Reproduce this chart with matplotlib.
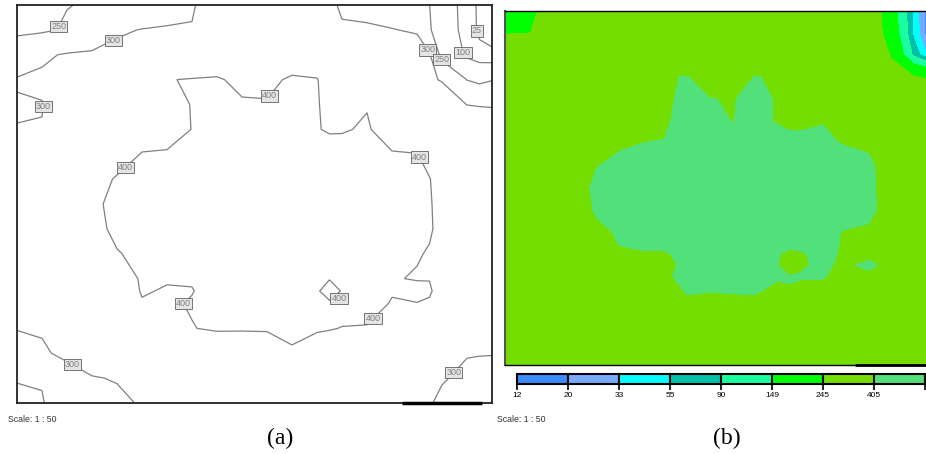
import numpy as np
import matplotlib.pyplot as plt

# room grid (m), x to the right, y downwards from the top wall
x_nodes = [0, 0.5, 1, 1.5, 2, 2.5, 3, 3.5, 4, 4.5, 5, 5.5, 6, 6.25, 6.5,
           7, 7.5, 8, 8.25, 8.5, 9, 9.25, 9.5]
y_nodes = [0, 0.5, 1, 1.5, 2, 2.5, 3, 3.5, 4, 4.5, 5, 5.5, 5.75, 6, 6.5,
           7, 7.5, 8]

# illuminance (lux), one row per y node
lux = np.array([
    [225, 242, 249, 253, 265, 275, 285, 298, 312, 325, 330, 325, 315, 306, 296, 290, 285, 272, 251, 186, 46, 17, 13],
    [243, 244, 254, 270, 296, 301, 303, 301, 320, 335, 340, 338, 322, 310, 303, 304, 301, 297, 258, 200, 46, 18, 14],
    [272, 295, 303, 306, 308, 320, 330, 340, 355, 350, 350, 372, 370, 355, 340, 335, 325, 315, 304, 235, 78, 36, 30],
    [303, 305, 320, 325, 330, 340, 398, 403, 406, 386, 390, 406, 402, 380, 370, 368, 350, 320, 304, 298, 249, 240, 248],
    [297, 299, 318, 330, 345, 360, 390, 401, 410, 406, 403, 415, 402, 392, 392, 398, 375, 350, 335, 318, 299.5, 298, 297],
    [301, 301, 320, 335, 350, 380, 378, 401, 415, 420, 404, 415, 402, 396, 397, 404, 380, 375, 362, 350, 325, 322, 322],
    [330, 340, 350, 365, 380, 402, 405, 406, 418, 425, 425, 425, 422, 418, 415, 410, 403, 401, 390, 375, 355, 348, 340],
    [340, 350, 365, 382, 404, 410, 415, 420, 425, 428, 430, 428, 425, 425, 425, 425, 420, 410, 401, 388, 365, 355, 345],
    [350, 360, 372, 392, 410, 415, 420, 425, 428, 430, 432, 430, 428, 428, 428, 425, 418, 410, 402, 392, 370, 360, 350],
    [350, 360, 372, 388, 408, 415, 420, 425, 428, 430, 430, 430, 428, 428, 428, 425, 420, 410, 403, 392, 370, 360, 350],
    [350, 360, 370, 385, 398, 408, 418, 420, 422, 422, 422, 420, 418, 416, 416, 412, 403, 402, 398, 385, 365, 358, 350],
    [345, 352, 365, 375, 385, 403, 402, 402, 412, 418, 418, 415, 406, 402, 403, 410, 402, 398, 399, 388, 365, 358, 350],
    [340, 345, 355, 368, 380, 402, 398, 399, 410, 415, 415, 412, 405.5, 380, 403, 408, 401, 410, 404, 385, 362, 355, 348],
    [335, 340, 348, 360, 372, 398, 396, 402, 410, 410, 412, 410, 406, 407, 406, 406, 399, 399, 396, 382, 360, 352, 345],
    [302, 302, 325, 340, 355, 375, 396, 399, 404, 403, 403, 404, 401, 401, 399.5, 399, 385, 375, 368, 360, 345, 335, 330],
    [278, 297, 305, 320, 330, 345, 360, 365, 370, 375, 380, 398, 395, 388, 385, 380, 375, 360, 345, 325, 302, 302, 302],
    [251, 252, 290, 298, 302, 305, 325, 340, 350, 355, 360, 365, 362, 360, 360, 355, 350, 330, 306, 303, 292, 285, 280],
    [246, 248, 270, 282, 293, 303, 320, 335, 345, 350, 352, 355, 352, 350, 345, 340, 335, 318, 303, 292, 280, 275, 270],
])

line_levels = [25, 100, 250, 300, 400]
fill_levels = [12, 20, 33, 55, 90, 149, 245, 405, 668]
fill_colors = ['#3a8cff', '#78aaff', '#00ffff', '#00c0a8', '#19ffa0',
               '#00ff00', '#73de00', '#52e07a']

# where the contour labels sit (m)
label_pos = [(0.76, 0.39), (1.86, 0.58), (0.5, 2.03), (2.32, 3.44),
             (5.12, 1.89), (8.22, 0.90), (8.52, 1.09), (8.9, 0.96),
             (9.2, 0.52), (8.16, 3.0), (3.26, 6.03), (1.16, 7.14),
             (6.44, 5.9), (7.2, 6.39), (8.86, 7.5)]

W, H = 926, 454
fig = plt.figure(figsize=(W / 100, H / 100), dpi=100)


def px_axes(l, t, r, b):
    return fig.add_axes([l / W, 1 - b / H, (r - l) / W, (b - t) / H])


# (a) isolux lines
ax_a = px_axes(17, 5, 492, 403)
cs = ax_a.contour(x_nodes, y_nodes, lux, levels=line_levels,
                  colors='#808080', linewidths=0.9)
texts = ax_a.clabel(cs, fmt='%d', fontsize=6.5, manual=label_pos,
                    inline=False)
for t in texts:
    t.set_rotation(0)
    t.set_fontfamily('Liberation Sans')
    t.set_zorder(6)
    t.set_bbox(dict(boxstyle='square,pad=0.12', fc='#e4e4e4',
                    ec='#606060', lw=0.6))
# the small dark spot label sits at the corner of its loop, not on top of it
texts[12].set_position(label_pos[12])
ax_a.plot([7.7, 9.3], [8, 8], color='k', lw=2.5, clip_on=False,
          solid_capstyle='butt', zorder=5)
ax_a.set_xlim(0, 9.5)
ax_a.set_ylim(8, 0)
ax_a.set_xticks([])
ax_a.set_yticks([])
for s in ax_a.spines.values():
    s.set_linewidth(1.3)
    s.set_color('#222222')

# (b) filled map
ax_b = px_axes(505.5, 10.5, 936.5, 365)
cf = ax_b.contourf(x_nodes, y_nodes, lux, levels=fill_levels,
                   colors=fill_colors)
ax_b.plot([7.7, 9.3], [8, 8], color='k', lw=2, clip_on=False,
          solid_capstyle='butt', zorder=5)
ax_b.set_xlim(0, 9.5)
ax_b.set_ylim(8, 0)
ax_b.set_xticks([])
ax_b.set_yticks([])
ax_b.spines['left'].set_color('#555555')
ax_b.spines['left'].set_linewidth(1.5)
ax_b.spines['top'].set_linewidth(1.0)
ax_b.spines['bottom'].set_linewidth(1.0)

cax = px_axes(517, 374, 925, 384)
cb = fig.colorbar(cf, cax=cax, orientation='horizontal', drawedges=True)
cb.set_ticks(fill_levels)
# the last label runs off the right edge of the figure, so it is left blank
cb.set_ticklabels([str(v) for v in fill_levels[:-1]] + [''])
cb.outline.set_linewidth(1.5)
cb.dividers.set_linewidth(1.5)
cax.tick_params(length=4, width=1.2, labelsize=6, pad=2)
for t in cax.get_xticklabels():
    t.set_fontfamily('Liberation Sans')

for xp in (8, 497):
    fig.text(xp / W, 1 - 420 / H, 'Scale: 1 : 50', fontsize=6.3,
             family='Liberation Sans', ha='left', va='center', color='#333333')
fig.text(280.5 / W, 1 - 438.5 / H, '(a)', fontsize=17,
         family='Liberation Serif', ha='center', va='center')
fig.text(727 / W, 1 - 438.5 / H, '(b)', fontsize=17,
         family='Liberation Serif', ha='center', va='center')

fig.savefig('out.png', dpi=100)
